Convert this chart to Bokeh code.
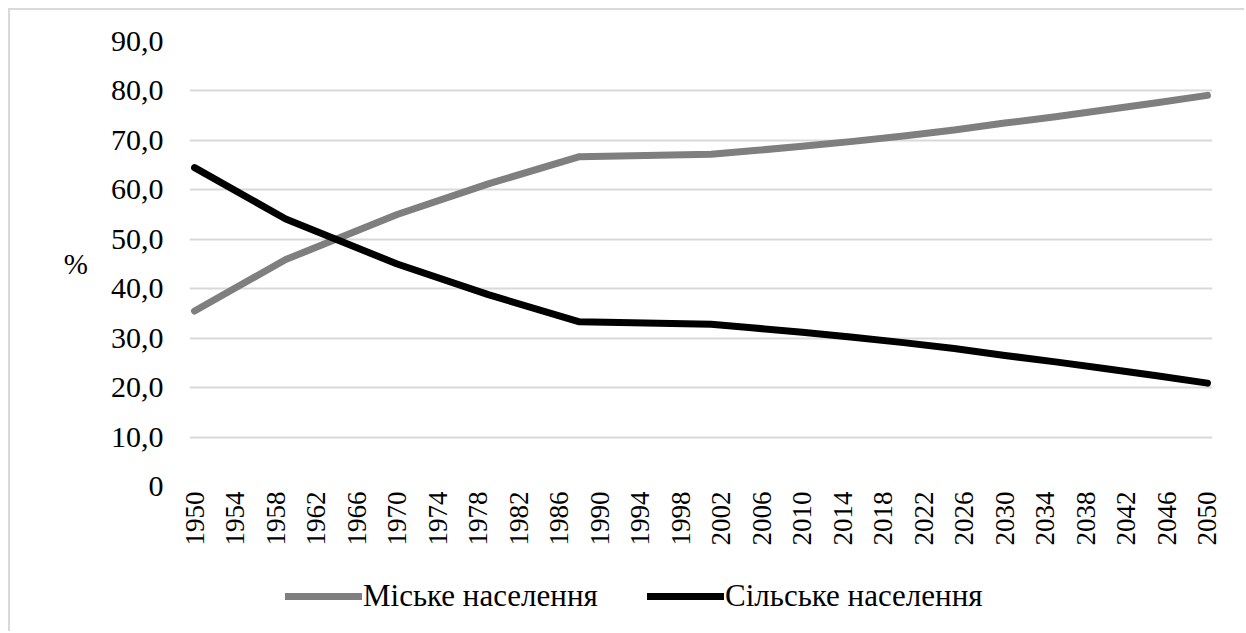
import math
from bokeh.plotting import figure
from bokeh.models import FixedTicker, Legend, LegendItem, Range1d
from bokeh.layouts import column
from bokeh.embed import file_html
from bokeh.resources import INLINE

# ---- data ----
years = [1950, 1959, 1970, 1979, 1988, 2001, 2005, 2010, 2015, 2020, 2025, 2030, 2035, 2040, 2045, 2050]
urban = [35.5, 45.9, 55.0, 61.2, 66.7, 67.2, 67.9, 68.8, 69.8, 70.9, 72.1, 73.5, 74.8, 76.2, 77.6, 79.1]
rural = [64.5, 54.1, 45.0, 38.8, 33.3, 32.8, 32.1, 31.2, 30.2, 29.1, 27.9, 26.5, 25.2, 23.8, 22.4, 20.9]

x_tick_years = list(range(1950, 2051, 4))
y_ticks = [0, 10, 20, 30, 40, 50, 60, 70, 80, 90]
y_tick_labels = ["0", "10,0", "20,0", "30,0", "40,0", "50,0", "60,0", "70,0", "80,0", "90,0"]

urban_label = "Міське населення"
rural_label = "Сільське населення"
y_unit = "%"

FONT = "'Liberation Serif', 'Times New Roman', serif"
GRAY = "#7f7f7f"
BLACK = "#000000"

p = figure(width=1234, height=553, output_backend="svg", toolbar_location=None,
           x_range=Range1d(1949.5, 2050.5), y_range=Range1d(0, 90),
           min_border_left=179, min_border_right=32, min_border_top=31, min_border_bottom=77)
p.outline_line_color = None
p.background_fill_color = "white"
p.border_fill_color = "white"

r1 = p.line(years, urban, line_color=GRAY, line_width=7, line_cap="round", line_join="round")
r2 = p.line(years, rural, line_color=BLACK, line_width=7, line_cap="round", line_join="round")

# axes
xa = p.xaxis[0]
xa.ticker = FixedTicker(ticks=x_tick_years)
xa.major_label_orientation = math.pi / 2
xa.major_tick_line_color = None
xa.major_tick_out = 0
xa.major_tick_in = 0
xa.minor_tick_line_color = None
xa.minor_tick_out = 0
xa.axis_line_color = None
xa.major_label_standoff = 5
xa.major_label_text_font = FONT
xa.major_label_text_font_size = "27px"
xa.major_label_text_color = "black"

ya = p.yaxis[0]
ya.ticker = FixedTicker(ticks=y_ticks)
ya.major_label_overrides = {t: lab for t, lab in zip(y_ticks, y_tick_labels)}
ya.major_tick_line_color = None
ya.major_tick_out = 0
ya.major_tick_in = 0
ya.minor_tick_line_color = None
ya.minor_tick_out = 0
ya.axis_line_color = None
ya.major_label_standoff = 26
ya.major_label_text_font = FONT
ya.major_label_text_font_size = "30px"
ya.major_label_text_color = "black"
ya.axis_label = y_unit
ya.axis_label_text_font = FONT
ya.axis_label_text_font_size = "29px"
ya.axis_label_text_font_style = "normal"
ya.axis_label_text_color = "black"
ya.axis_label_standoff = 20
try:
    ya.axis_label_orientation = "horizontal"
except Exception:
    pass

p.xgrid.visible = False
p.ygrid.grid_line_color = "#d9d9d9"
p.ygrid.grid_line_width = 2

# legend strip (separate figure below the chart; its frame aligns with the chart's frame)
leg = figure(width=1234, height=68, output_backend="svg", toolbar_location=None,
             x_axis_location=None, y_axis_location=None,
             x_range=Range1d(0, 1), y_range=Range1d(0, 1),
             min_border_left=0, min_border_right=0, min_border_top=0, min_border_bottom=0)
leg.outline_line_color = None
leg.xgrid.visible = False
leg.ygrid.visible = False
leg.border_fill_color = "white"
leg.background_fill_color = "white"
# same series, outside this strip's ranges -> only their legend keys show
lr1 = leg.line(years, urban, line_color=GRAY, line_width=7, line_cap="round")
lr2 = leg.line(years, rural, line_color=BLACK, line_width=7, line_cap="round")

def mk_leg(label, r, vx):
    return Legend(items=[LegendItem(label=label, renderers=[r])], location=(vx, 17),
                  orientation="horizontal", glyph_width=77, glyph_height=32, label_height=32,
                  label_standoff=1, padding=0, margin=0, border_line_color=None,
                  background_fill_alpha=0, label_text_font=FONT, label_text_font_size="31px",
                  label_text_color="black", label_text_baseline="middle")

leg.add_layout(mk_leg(urban_label, lr1, 96))
leg.add_layout(mk_leg(rural_label, lr2, 458))

layout = column(p, leg, spacing=0,
                styles={"border-top": "2px solid #d9d9d9", "border-left": "2px solid #d9d9d9",
                        "margin-left": "8px", "margin-top": "8px"})

open("out.html", "w").write(file_html(layout, INLINE))
